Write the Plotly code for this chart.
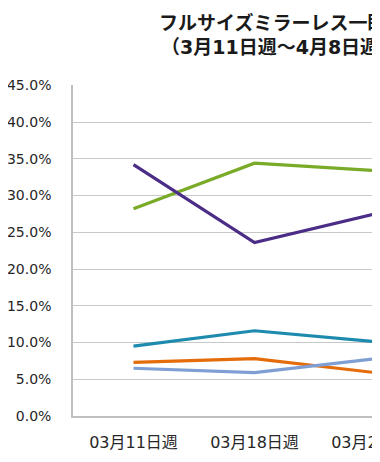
import plotly.graph_objects as go

categories = ["03月11日週", "03月18日週", "03月25日週", "04月01日週"]
green = [0.282, 0.344, 0.334, 0.350]
purple = [0.342, 0.236, 0.275, 0.240]
teal = [0.095, 0.116, 0.101, 0.108]
orange = [0.073, 0.078, 0.059, 0.055]
lightblue = [0.065, 0.059, 0.078, 0.083]
y_ticks = [0, 0.05, 0.10, 0.15, 0.20, 0.25, 0.30, 0.35, 0.40, 0.45]

title_line1 = "フルサイズミラーレス一眼"
title_line2 = "（3月11日週～4月8日週）"

series = [
    (green, "#7AAB28"),
    (purple, "#4B2C87"),
    (teal, "#1E8BAE"),
    (orange, "#E46C0A"),
    (lightblue, "#7F9FD4"),
]

# page body has an 8px default margin; the figure is drawn from (8, 8)
OFF = 8
W, H = 380 - OFF, 462 - OFF
# reference plot area (page pixels): left 73, top 85, bottom 416, right beyond 380
ml = 73 - OFF
mt = 85 - OFF
mb = H - (416 - OFF)
mr = 0
plot_w = W - ml - mr
plot_h = H - mt - mb
band = 121.0

fig = go.Figure()
xs = list(range(len(categories)))
for vals, col in series:
    fig.add_trace(go.Scatter(
        x=xs, y=vals, mode="lines",
        line=dict(color=col, width=3.2),
        showlegend=False, hoverinfo="skip",
    ))

jp = "DejaVu Sans, Noto Sans CJK JP"
fig.update_layout(
    width=W, height=H,
    margin=dict(l=ml, r=mr, t=mt, b=mb, pad=0),
    paper_bgcolor="white", plot_bgcolor="white",
    showlegend=False,
)
fig.update_xaxes(
    range=[-0.5, -0.5 + plot_w / band],
    tickmode="array", tickvals=xs, ticktext=categories,
    tickfont=dict(family=jp, size=16, color="#262626"),
    showgrid=False, showline=True, linecolor="#BFBFBF", linewidth=1.5,
    ticks="", ticklabelstandoff=11, automargin=False, zeroline=False,
    ticklabeloverflow="allow",
    fixedrange=True,
)
fig.update_yaxes(
    range=[0, 0.4504],
    tickmode="array", tickvals=y_ticks,
    ticktext=[f"{v*100:.1f}%" for v in y_ticks],
    tickfont=dict(family=jp, size=14, color="#262626"),
    showgrid=True, gridcolor="#C8C8C8", gridwidth=1.3,
    showline=True, linecolor="#BFBFBF", linewidth=1.5,
    ticks="", ticklabelstandoff=17, automargin=False, zeroline=False,
    ticklabeloverflow="allow",
    fixedrange=True,
)

def px_to_paper_x(px):
    return (px - OFF - ml) / plot_w

def px_to_paper_y(py):
    return (H - mb - (py - OFF)) / plot_h

for text, px, py in [(title_line1, 157, 23), (title_line2, 159, 47)]:
    fig.add_annotation(
        text=f"<b>{text}</b>", xref="paper", yref="paper",
        x=px_to_paper_x(px), y=px_to_paper_y(py),
        xanchor="left", yanchor="middle", showarrow=False,
        font=dict(family=jp, size=19, color="#1a1a1a"),
    )

fig.write_html("out.html")
